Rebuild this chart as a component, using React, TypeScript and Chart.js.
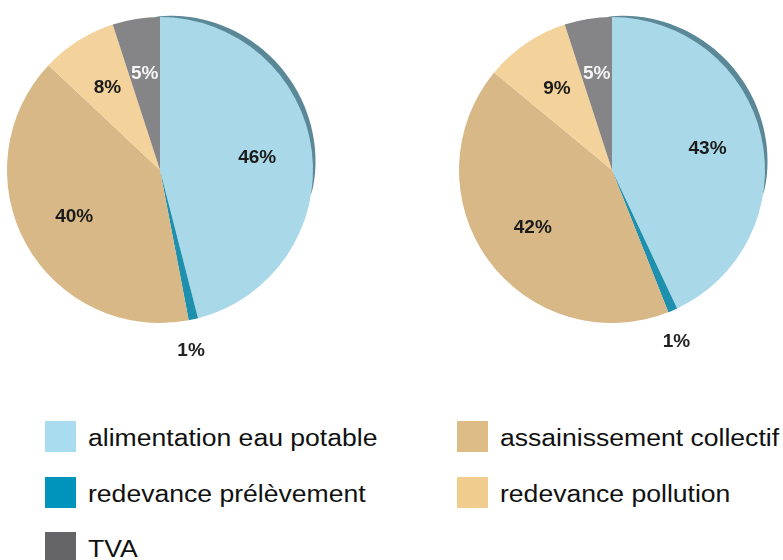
import React, { useEffect, useRef } from "react";
import { Chart, registerables } from "chart.js";

Chart.register(...registerables);

const CATEGORIES = [
  "alimentation eau potable",
  "redevance prélèvement",
  "assainissement collectif",
  "redevance pollution",
  "TVA",
];
const LEFT_VALUES = [46, 1, 40, 8, 5];
const RIGHT_VALUES = [43, 1, 42, 9, 5];
const PIE_COLORS = ["#a9d8e9", "#1f8fae", "#d7b886", "#f3d29b", "#858588"];
const LEGEND_COLORS = ["#a8dcee", "#0094bd", "#ddbc85", "#f0cc8f", "#656567"];
const LABEL_COLORS = ["#1b1b1b", "#1b1b1b", "#1b1b1b", "#1b1b1b", "#f4f4f4"];
const LEGEND_ORDER = [0, 2, 1, 3, 4];

const rimPlugin = {
  id: "rim",
  beforeDatasetsDraw(chart: any) {
    const meta = chart.getDatasetMeta(0);
    const arc = meta.data[0];
    if (!arc) return;
    const { x, y, outerRadius } = arc.getProps(["x", "y", "outerRadius"], true);
    const ctx = chart.ctx;
    const a0 = -Math.PI / 2 - 0.03;
    const a1 = Math.PI * 0.05;
    const n = 60;
    ctx.save();
    ctx.beginPath();
    for (let i = 0; i <= n; i++) {
      const t = i / n;
      const phi = a0 + (a1 - a0) * t;
      const r = outerRadius + 5.5 * Math.pow(Math.sin(Math.PI * t), 0.7);
      const px = x + r * Math.cos(phi);
      const py = y + r * Math.sin(phi);
      if (i === 0) ctx.moveTo(px, py);
      else ctx.lineTo(px, py);
    }
    ctx.arc(x, y, outerRadius - 1, a1, a0, true);
    ctx.closePath();
    ctx.fillStyle = "#5b8897";
    ctx.fill();
    ctx.restore();
  },
};

const labelPlugin = {
  id: "pctLabels",
  afterDatasetsDraw(chart: any) {
    const meta = chart.getDatasetMeta(0);
    const values = chart.data.datasets[0].data as number[];
    const ctx = chart.ctx;
    ctx.save();
    ctx.font = "bold 19px 'Liberation Sans', Arial, sans-serif";
    ctx.textAlign = "center";
    ctx.textBaseline = "middle";
    meta.data.forEach((arc: any, i: number) => {
      const { x, y, startAngle, endAngle, outerRadius } = arc.getProps(
        ["x", "y", "startAngle", "endAngle", "outerRadius"],
        true
      );
      const small = values[i] < 3;
      const mid = (startAngle + endAngle) / 2 + (small ? 0.05 : 0);
      const f = small ? 1.2 : 0.64;
      const lx = x + Math.cos(mid) * outerRadius * f;
      const ly = y + Math.sin(mid) * outerRadius * f;
      ctx.fillStyle = small ? "#222222" : LABEL_COLORS[i];
      ctx.fillText(values[i] + "%", lx, ly);
    });
    ctx.restore();
  },
};

function Pie({ values, left, top }: { values: number[]; left: number; top: number }) {
  const ref = useRef<HTMLCanvasElement | null>(null);
  useEffect(() => {
    if (!ref.current) return;
    const chart = new Chart(ref.current, {
      type: "pie",
      data: {
        labels: CATEGORIES,
        datasets: [
          {
            data: values,
            backgroundColor: PIE_COLORS,
            borderWidth: 0,
          },
        ],
      },
      options: {
        responsive: false,
        animation: false,
        layout: { padding: 37 },
        plugins: {
          legend: { display: false },
          tooltip: { enabled: false },
        },
      },
      plugins: [rimPlugin, labelPlugin],
    });
    return () => chart.destroy();
  }, [values]);
  return (
    <canvas
      ref={ref}
      width={380}
      height={380}
      style={{ position: "absolute", left, top, width: 380, height: 380 }}
    />
  );
}

export default function App() {
  const rowTops = [421, 476.5, 532];
  const colLefts = [45, 457];
  return (
    <div
      style={{
        position: "fixed",
        left: 0,
        top: 0,
        width: 783,
        height: 560,
        overflow: "hidden",
        background: "#ffffff",
      }}
    >
      <Pie values={LEFT_VALUES} left={-30} top={-20} />
      <Pie values={RIGHT_VALUES} left={422} top={-20} />
      {LEGEND_ORDER.map((idx, k) => {
        const row = Math.floor(k / 2);
        const col = k % 2;
        const x = colLefts[col];
        const y = rowTops[row];
        return (
          <div key={idx}>
            <div
              style={{
                position: "absolute",
                left: x,
                top: y,
                width: 31,
                height: 31,
                background: LEGEND_COLORS[idx],
              }}
            />
            <div
              style={{
                position: "absolute",
                left: x + 43,
                top: y + 2,
                height: 31,
                lineHeight: "31px",
                fontFamily: "'Liberation Sans', Arial, sans-serif",
                fontSize: 23,
                color: "#111111",
                whiteSpace: "nowrap",
                transform: "scaleX(1.155)",
                transformOrigin: "left center",
              }}
            >
              {CATEGORIES[idx]}
            </div>
          </div>
        );
      })}
    </div>
  );
}
